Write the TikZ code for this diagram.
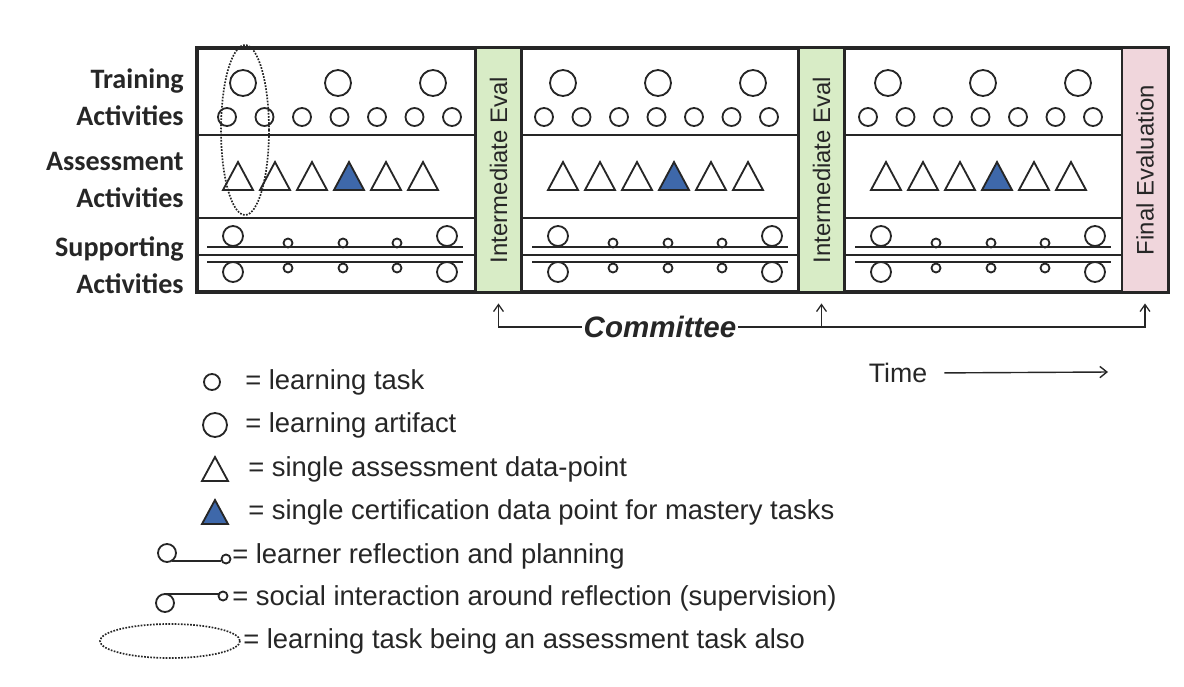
\documentclass[tikz,border=0pt]{standalone}
\usepackage{fontspec}
\setmainfont{Liberation Sans}
\newfontfamily\labelfont{Carlito}
\usetikzlibrary{arrows.meta, positioning}
\definecolor{evalgreen}{RGB}{216, 236, 198}
\definecolor{finalpink}{RGB}{240, 214, 220}
\definecolor{certblue}{RGB}{62, 104, 170}
\definecolor{inkgray}{RGB}{38, 38, 38}

\begin{document}
\begin{tikzpicture}[x=0.025cm, y=-0.025cm,
  frame/.style={line width=2.2pt, draw=inkgray},
  rowline/.style={line width=1.8pt, draw=inkgray},
  task/.style={line width=1.3pt, draw=inkgray},
  guide/.style={line width=1pt, draw=inkgray},
  rowlabel/.style={anchor=east, align=right, inner sep=0pt, text=inkgray, font=\labelfont\bfseries\fontsize{20}{26.3}\selectfont},
  evalbox/.style={draw=inkgray, line width=2pt, rotate=90, minimum width=6.1cm, minimum height=1.15cm, inner sep=0pt, text=inkgray, font=\fontsize{17}{19}\selectfont},
  legend/.style={anchor=west, inner sep=0pt, text=inkgray, font=\fontsize{19.5}{22}\selectfont},
  commarrow/.style={-{Straight Barb[length=5pt, width=7pt]}, line width=0.9pt, draw=inkgray, shorten >=0.25cm}
]
  \useasboundingbox (0,0) rectangle (1184,686);

  % Row labels
  \node[rowlabel] (train) at (184,97) {Training\\Activities};
  \node[rowlabel] (assess) at (184,180) {Assessment\\Activities};
  \node[rowlabel] (support) at (184,265) {Supporting\\Activities};

  % Frame and rows
  \draw[frame] (197,48) rectangle (1168,292);
  \foreach \bx/\ex in {197/475, 522/798, 845/1122} {
    \draw[rowline] (\bx,135) -- (\ex,135);
    \draw[rowline] (\bx,218) -- (\ex,218);
    \draw[rowline] (\bx,255) -- (\ex,255);
  }

  % Block contents
  \foreach \bx/\ls/\ss in {197/5/8, 522/0/0, 845/2/1} {
    \foreach \i in {0,1,2} \draw[task] (\bx+41+\ls+95*\i, 83) circle[radius=13];
    \foreach \i in {0,...,6} \draw[task] (\bx+22+\ss+37.5*\i, 117) circle[radius=9];
    \foreach \i in {0,1,2,4,5} \draw[task] (\bx+26+37*\i, 190) -- ++(15,-28) -- ++(15,28) -- cycle;
    \filldraw[task, fill=certblue] (\bx+137, 190) -- ++(15,-28) -- ++(15,28) -- cycle;
    \draw[guide] (\bx+10,247) -- (\bx+266,247);
    \draw[guide] (\bx+10,262) -- (\bx+266,262);
    \foreach \sx in {36, 250} {
      \draw[task] (\bx+\sx, 236) circle[radius=10];
      \draw[task] (\bx+\sx, 272) circle[radius=10];
    }
    \foreach \sx in {91, 146, 200} {
      \draw[task] (\bx+\sx, 243) circle[radius=4.5];
      \draw[task] (\bx+\sx, 268) circle[radius=4.5];
    }
  }

  % Learning task that is also an assessment task
  \draw[line width=1.2pt, densely dotted, inkgray] (245,130) ellipse [x radius=24, y radius=85];

  % Evaluations
  \node[evalbox, fill=evalgreen] (eval1) at (498.5,170) {Intermediate Eval};
  \node[evalbox, fill=evalgreen] (eval2) at (821.5,170) {Intermediate Eval};
  \node[evalbox, fill=finalpink] (final) at (1145,170) {Final Evaluation};

  % Committee
  \node[inner sep=1pt, text=inkgray, font=\bfseries\itshape\fontsize{21}{24}\selectfont] (committee) at (660,327) {Committee};
  \draw[commarrow] (committee.west) -| (eval1.west);
  \draw[commarrow] (committee.east) -| (final.west);
  \draw[commarrow] (committee.east -| eval2.west) -- (eval2.west);

  % Time
  \node[inner sep=0pt, text=inkgray, font=\fontsize{19}{22}\selectfont] (time) at (898,373) {Time};
  \coordinate (timeend) at (1108,372);
  \draw[-{Straight Barb[length=5pt, width=8pt]}, line width=1pt, inkgray, shorten <=0.42cm] (time.east) -- (timeend);

  % Legend
  \draw[task] (212,382) circle[radius=8];
  \node[legend] (leg1) at (245,382) {= learning task};
  \draw[task] (215,425) circle[radius=12];
  \node[legend] (leg2) at (245,425) {= learning artifact};
  \draw[task] (202,481) -- ++(13,-24) -- ++(13,24) -- cycle;
  \node[legend] (leg3) at (248,469) {= single assessment data-point};
  \filldraw[task, fill=certblue] (202,524) -- ++(13,-24) -- ++(13,24) -- cycle;
  \node[legend] (leg4) at (248,512) {= single certification data point for mastery tasks};
  \draw[task] (167,553) circle[radius=9];
  \draw[guide] (172,561) -- (221,561);
  \draw[task] (226,559) circle[radius=4.5];
  \node[legend] (leg5) at (232,556) {= learner reflection and planning};
  \draw[task] (165,603) circle[radius=9];
  \draw[guide] (165,594) -- (219,594);
  \draw[task] (223,596) circle[radius=4.5];
  \node[legend] (leg6) at (232,598) {= social interaction around reflection (supervision)};
  \draw[line width=1.2pt, densely dotted, inkgray] (170,641) ellipse [x radius=70, y radius=17];
  \node[legend] (leg7) at (243,641) {= learning task being an assessment task also};
\end{tikzpicture}
\end{document}
